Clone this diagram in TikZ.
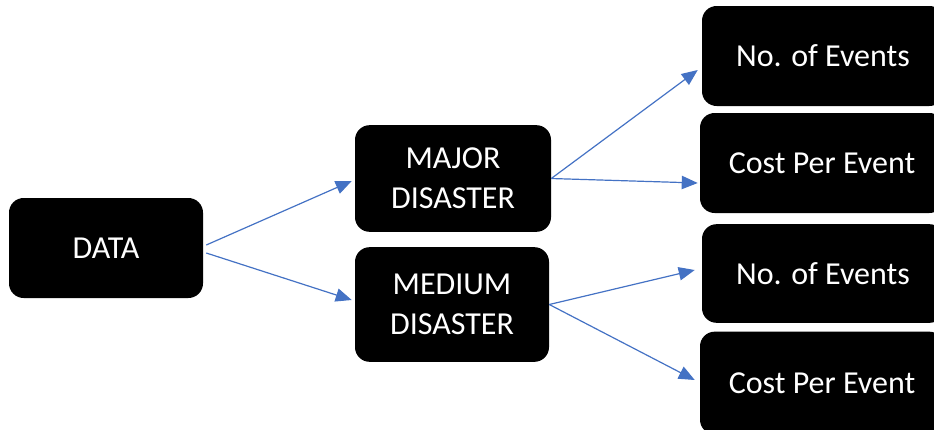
\documentclass[tikz,border=0pt]{standalone}
\usepackage{fontspec}
\setmainfont{Carlito}
\usepackage{tikz}
\usetikzlibrary{arrows.meta,calc}

\begin{document}
\begin{tikzpicture}[x=0.75pt,y=-0.75pt,
 box/.style={fill=black,text=white,rounded corners=11pt,align=center,inner sep=0pt,font=\fontsize{24}{30}\selectfont},
 link/.style={-{Triangle[length=12pt,width=10pt]},draw={rgb,255:red,68;green,114;blue,196},line width=0.9pt}]
\clip (0,0) rectangle (934,429);

\node (D)[box,minimum width=145.5pt,minimum height=75pt] at (106,248) {DATA};
\node (MJ)[box,minimum width=147pt,minimum height=80pt] at (453,178.5) {MAJOR\\DISASTER};
\node (MD)[box,minimum width=145.5pt,minimum height=86pt] at (452,304.5) {MEDIUM\\DISASTER};

\node (N1)[box,minimum width=181.5pt,minimum height=75pt] at (823,56) {No. of Events};
\node (C1)[box,minimum width=183pt,minimum height=75pt] at (822,163) {Cost Per Event};
\node (N2)[box,minimum width=181.5pt,minimum height=74pt] at (823,273.5) {No. of Events};
\node (C2)[box,minimum width=183pt,minimum height=77pt] at (822,383) {Cost Per Event};

\draw[link] ($(D.east)+(3,-3)$)--($(MJ.west)+(-3,2.5)$);
\draw[link] ($(D.east)+(3,5)$)--($(MD.west)+(-3,-4.5)$);
\draw[link] (MJ.east)--($(N1.west)+(-4,14)$);
\draw[link] (MJ.east)--($(C1.west)+(-2,20)$);
\draw[link] (MD.east)--($(N2.west)+(-7,-3.5)$);
\draw[link] (MD.east)--($(C2.west)+(-5,-3)$);

\end{tikzpicture}
\end{document}
